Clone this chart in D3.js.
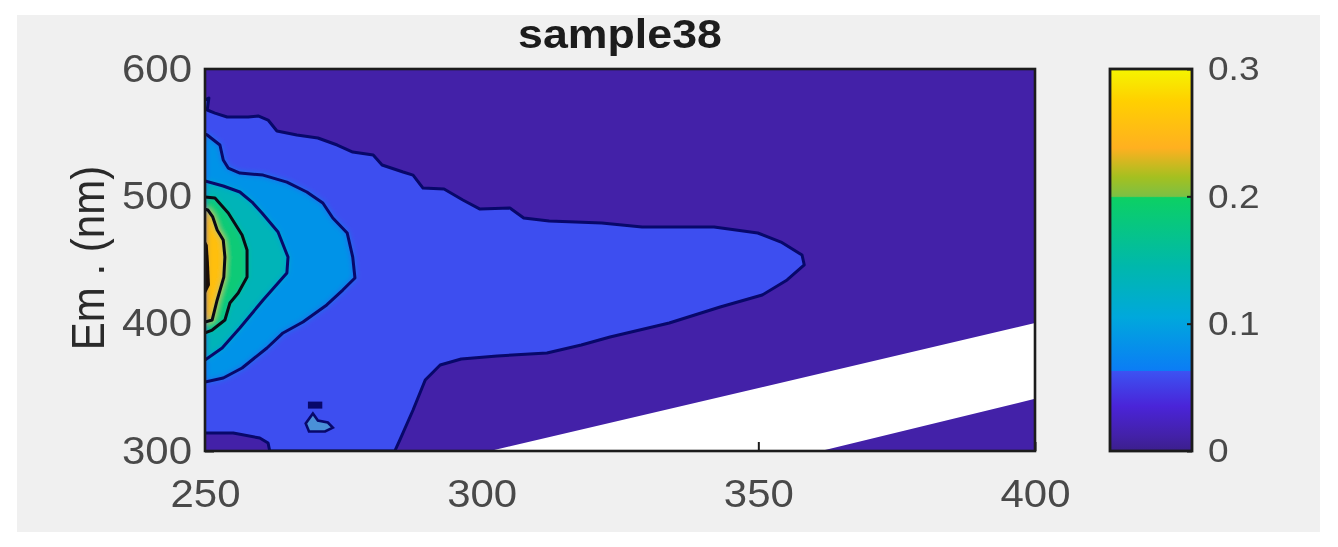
<!DOCTYPE html>
<html><head><meta charset="utf-8">
<script src="https://cdn.jsdelivr.net/npm/d3@7/dist/d3.min.js"></script>
<style>html,body{margin:0;padding:0;background:#fff;overflow:hidden}svg{display:block}</style>
</head><body><svg id="c" width="1338" height="547"></svg>
<script>
const titleText = "sample38";
const yLabelText = "Em . (nm)";
const xTicks = [250, 300, 350, 400];
const yTicks = [300, 400, 500, 600];
const cTicks = [0, 0.1, 0.2, 0.3];
const xDomain = [250, 400];
const yDomain = [300, 600];
const cDomain = [0, 0.3];

// contour outlines, [excitation, emission]
const contour1 = [[250,575.6],[250.7,577.2],[250.4,567.8],[251.8,565.4],[254,562.3],[257.8,562.3],[259.6,563.1],[261.4,559.9],[263,551.3],[266.6,548.2],[270.4,545.8],[273.9,540.3],[276.7,534.8],[280.4,532.4],[282,524.6],[285.8,519.1],[287.6,516.7],[289.4,506.5],[293.2,505.7],[296.6,497.1],[299.7,490],[305.1,490.8],[307.6,483],[312.2,480.6],[321.7,479],[329,475.9],[342,475.9],[349.9,471.2],[354.1,464.1],[357.9,453.9],[358.3,446.1],[355.2,434.3],[350.7,422.5],[343.1,413.1],[333.9,400.5],[323.2,389.5],[318,383.2],[311.8,377],[302.8,374.6],[296.3,372.2],[292.5,367.5],[289.8,355.8],[287.6,332.2],[285.2,308.6],[284.3,300],[261.7,300],[261.4,306.3],[259.9,310.2],[255.1,314.1],[250,314.1]];
const contour2 = [[250,548.9],[250.4,548.2],[252.7,540.3],[253.3,528.5],[254.2,522.2],[256.3,518.3],[260.5,516.7],[264.8,511.2],[268.4,503.4],[271.3,494.8],[273.1,483],[275.7,471.2],[276.7,452.3],[277.1,435.9],[274.9,426.4],[272,414.7],[267.7,401.3],[264.1,392.7],[261.2,380.9],[256.7,365.2],[253.3,357.3],[250,354.2]];
const contour3 = [[250,512],[253.3,508.1],[256.3,503.4],[258.5,495.5],[260.3,486.9],[263.2,472],[265,452.3],[264.8,439.8],[260.5,418.6],[256.3,396.6],[253.1,380.9],[250,371.5]];
const contour4 = [[250,499.5],[251.8,498.7],[254.2,486.9],[256.7,469.6],[257.6,457.8],[257.6,436.6],[256,424.1],[254.5,416.2],[253.6,402.9],[251.3,395],[250,392.7]];
const contour5 = [[250,490],[250.5,489.3],[251.4,483.8],[252.2,473.5],[253.3,465.7],[253.6,452.3],[253.4,436.6],[252.2,418.6],[251.3,402.9],[250,401.3]];
const contour6 = [[250,465.7],[250.5,461.8],[250.7,448.4],[250.9,430.4],[250,422.5]];
const islandCap = [[268.6,338.8],[271.2,338.8],[271.2,333.3],[268.6,333.3]];
const islandBody = [[269.5,329.4],[270.4,323.9],[272.2,322.4],[273.1,318.4],[271.7,315.3],[268.8,315.3],[268.2,321.6]];
const voidBand = [[301.5,300],[400,400.5],[400,341],[361.3,300]];
const bandValues = [0.06, 0.085, 0.135, 0.185, 0.255, 0.3];
const baseValue = 0.012;
const cbStops = [0, 0.012, 0.035, 0.0625, 0.0626, 0.105, 0.145, 0.199, 0.2, 0.215, 0.238, 0.275, 0.3];
const cbColors = ["#3b1f8c","#4321a8","#4a24d8","#3c52f2","#0b7cf6","#00a8dc","#00b8ac","#0cd064","#7cc044","#a4c020","#ffb020","#ffd000","#f5f500"];

const W = 1338, H = 547;
const plot = {l:205, r:1035, t:69, b:451};
const bar = {l:1110, r:1192, t:69, b:451};
const ink = "#1c1c1c", grey = "#4a4a4a", STRETCH = 1.09;
const svg = d3.select("#c");
const x = d3.scaleLinear().domain(xDomain).range([plot.l, plot.r]);
const y = d3.scaleLinear().domain(yDomain).range([plot.b, plot.t]);
const c = d3.scaleLinear().domain(cbStops).range(cbColors).clamp(true);
const cy = d3.scaleLinear().domain(cDomain).range([bar.b, bar.t]);
const line = d3.line().x(d=>x(d[0])).y(d=>y(d[1]));

svg.append("rect").attr("width",W).attr("height",H).attr("fill","#fff");
svg.append("rect").attr("x",17).attr("y",15).attr("width",1303).attr("height",517).attr("fill","#f0f0f0");

const defs = svg.append("defs");
defs.append("clipPath").attr("id","pc").append("rect").attr("x",plot.l).attr("y",plot.t).attr("width",plot.r-plot.l).attr("height",plot.b-plot.t);
defs.append("filter").attr("id","soft").attr("x","-20%").attr("y","-20%").attr("width","140%").attr("height","140%").append("feGaussianBlur").attr("stdDeviation",3);
defs.append("filter").attr("id","txt").attr("x","-10%").attr("y","-10%").attr("width","120%").attr("height","120%").append("feGaussianBlur").attr("stdDeviation",0.6);
const lg = defs.append("linearGradient").attr("id","cbg").attr("x1",0).attr("x2",0).attr("y1",1).attr("y2",0);
cbStops.forEach((v,i)=>lg.append("stop").attr("offset",(v-cDomain[0])/(cDomain[1]-cDomain[0])).attr("stop-color",cbColors[i]));

// axes sit behind the field, as ticks only show through the empty band
svg.append("rect").attr("x",plot.l).attr("y",plot.t).attr("width",plot.r-plot.l).attr("height",plot.b-plot.t).attr("fill","#fff");

function stretch(sel){ sel.each(function(){ this.setAttribute("textLength", this.getComputedTextLength()*STRETCH); this.setAttribute("lengthAdjust","spacingAndGlyphs"); }); }
const font = "'Liberation Sans',Arial,sans-serif";
const labels = svg.append("g");

const xa = labels.append("g").attr("transform",`translate(0,${plot.b})`).call(d3.axisBottom(x).tickValues(xTicks).tickSizeOuter(0).tickSizeInner(-9).tickPadding(26).tickFormat(d3.format("d")));
const ya = labels.append("g").attr("transform",`translate(${plot.l},0)`).call(d3.axisLeft(y).tickValues(yTicks).tickSizeOuter(0).tickSizeInner(-9).tickPadding(13).tickFormat(d3.format("d")));
[xa,ya].forEach(a=>{a.select(".domain").remove();a.selectAll("line").attr("stroke",ink).attr("stroke-width",2);
  a.selectAll("text").attr("font-family",font).attr("font-size",38.5).attr("fill",grey).attr("filter","url(#txt)").call(stretch);});
xa.selectAll("text").attr("dy",0).attr("y",56);

const g = svg.append("g").attr("clip-path","url(#pc)");
const framePath = `M${plot.l},${plot.t}H${plot.r}V${plot.b}H${plot.l}Z`;
g.append("path").attr("d",framePath+line(voidBand)+"Z").attr("fill-rule","evenodd").attr("fill",c(baseValue));
const levels = [contour1,contour2,contour3,contour4,contour5,contour6];
g.append("path").attr("d",line(contour1)+"Z").attr("fill",c(bandValues[0]));
const soft = g.append("g").attr("filter","url(#soft)");
[1,2,3,4].forEach(i=>soft.append("path").attr("d",line(levels[i])+"Z").attr("fill",c(bandValues[i])));
g.append("path").attr("d",line(contour6)+"Z").attr("fill","#1a0e08");
g.append("path").attr("d",line(islandBody)+"Z").attr("fill","#4a90d8").attr("stroke","#08086a").attr("stroke-width",2.6);
g.append("path").attr("d",line(islandCap)+"Z").attr("fill","#08086a");
levels.slice(0,5).forEach((l,i)=>g.append("path").attr("d",line(l)).attr("fill","none")
  .attr("stroke",i<3?"#08086a":"#0a0a14").attr("stroke-width",3).attr("stroke-linejoin","round"));

svg.append("rect").attr("x",plot.l).attr("y",plot.t).attr("width",plot.r-plot.l).attr("height",plot.b-plot.t).attr("fill","none").attr("stroke",ink).attr("stroke-width",2.6);

svg.append("rect").attr("x",bar.l).attr("y",bar.t).attr("width",bar.r-bar.l).attr("height",bar.b-bar.t).attr("fill","url(#cbg)").attr("stroke",ink).attr("stroke-width",2.8);
const ca = svg.append("g").attr("transform",`translate(${bar.r},0)`).call(d3.axisRight(cy).tickValues(cTicks).tickSizeOuter(0).tickSizeInner(-5).tickPadding(16).tickFormat(d=>d===0?"0":d3.format(".1f")(d)));
ca.select(".domain").remove();
ca.selectAll("line").attr("stroke",ink).attr("stroke-width",2);
ca.selectAll("text").attr("font-family",font).attr("font-size",34).attr("fill",grey).attr("filter","url(#txt)").call(stretch);

svg.append("text").attr("x",620).attr("y",48).attr("text-anchor","middle").attr("font-family",font).attr("font-weight","bold").attr("font-size",41).attr("fill","#1a1a1a").attr("filter","url(#txt)").text(titleText).call(stretch);
svg.append("text").attr("transform",`translate(104,258) scale(${STRETCH},1) rotate(-90)`).attr("text-anchor","middle").attr("font-family",font).attr("font-size",42).attr("fill","#2a2a2a").attr("filter","url(#txt)").text(yLabelText);
</script></body></html>
